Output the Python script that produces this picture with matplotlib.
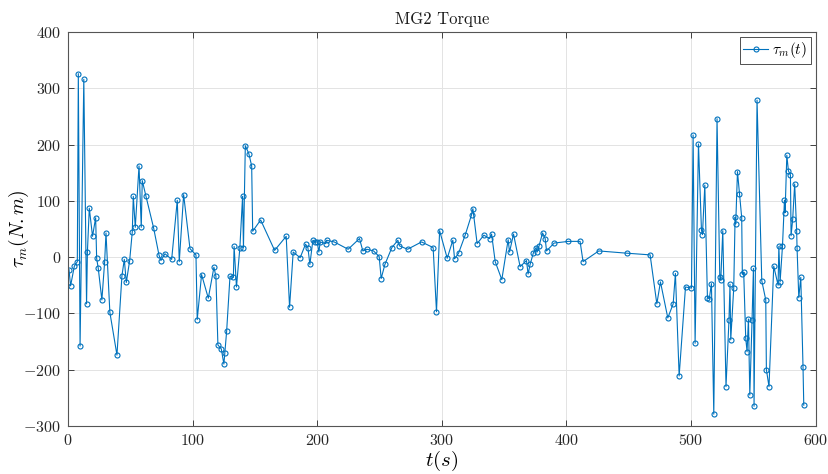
import matplotlib
matplotlib.use("Agg")
import matplotlib.pyplot as plt
from matplotlib.ticker import MultipleLocator

plt.rcParams['mathtext.fontset'] = 'cm'
plt.rcParams['font.family'] = 'serif'
plt.rcParams['font.serif'] = ['cmr10', 'DejaVu Serif']
plt.rcParams['axes.formatter.use_mathtext'] = True
plt.rcParams['axes.unicode_minus'] = False

# temps (s) et couple MG2 (N.m)
t = [0.8, 2.1, 5.1, 7.5, 8.3, 9.7, 12.7, 14.9, 15.6, 17.1,
     19.7, 22.2, 23.0, 24.3, 27.2, 29.4, 30.5, 33.6, 39.3, 43.3,
     45.2, 46.8, 49.5, 51.6, 52.4, 54.0, 57.0, 58.8, 59.6, 62.6,
     68.7, 73.0, 74.6, 77.8, 83.2, 87.7, 89.3, 92.8, 97.9, 102.7,
     103.7, 107.2, 112.6, 117.1, 118.7, 120.3, 123.0, 125.1, 125.8, 127.3,
     130.0, 132.7, 133.3, 135.2, 137.9, 140.1, 140.8, 142.3, 145.1, 147.4,
     148.2, 154.6, 165.8, 175.1, 177.8, 180.7, 186.3, 190.6, 192.5, 194.1,
     196.5, 198.4, 200.0, 201.3, 202.4, 206.7, 207.5, 213.6, 224.8, 233.9,
     236.6, 239.8, 245.2, 249.7, 251.3, 254.3, 259.9, 264.7, 266.0, 272.5,
     283.7, 293.0, 295.7, 298.2, 304.3, 308.8, 310.2, 313.4, 318.7, 323.8,
     324.9, 328.3, 333.7, 338.3, 339.9, 342.8, 348.1, 353.2, 354.3, 357.5,
     362.8, 367.9, 369.2, 370.8, 373.5, 375.6, 376.4, 378.0, 380.8, 382.9,
     384.0, 390.1, 401.6, 410.9, 413.3, 425.9, 448.4, 467.1, 472.5, 475.4,
     481.3, 485.6, 487.4, 490.4, 495.5, 500.3, 501.6, 503.2, 505.9, 508.3,
     509.1, 511.0, 513.1, 514.6, 516.3, 518.2, 520.8, 523.0, 523.8, 525.4,
     528.0, 530.4, 531.2, 531.8, 534.2, 535.3, 535.8, 537.2, 538.8, 540.6,
     541.1, 542.2, 543.8, 544.9, 546.0, 547.1, 548.9, 550.0, 550.5, 552.9,
     556.7, 559.9, 560.4, 562.5, 566.3, 569.8, 570.4, 571.4, 573.3, 574.9,
     575.4, 576.8, 578.1, 579.7, 580.2, 581.5, 583.1, 584.7, 585.0, 586.4,
     588.0, 589.8, 590.4]
tau = [-22, -51, -16, -8, 326, -158, 316, -83, 10, 87,
       37, 70, -2, -20, -76, -9, 43, -98, -174, -33,
       -4, -45, -6, 45, 108, 53, 162, 53, 136, 108,
       52, 4, -6, 6, -4, 101, -8, 111, 15, 4,
       -111, -31, -73, -18, -34, -156, -163, -190, -171, -132,
       -34, -36, 19, -53, 16, 108, 17, 198, 184, 162,
       46, 66, 12, 37, -89, 9, -1, 23, 17, -13,
       30, 27, 27, 9, 27, 24, 30, 27, 14, 33,
       11, 14, 11, 1, -38, -13, 17, 30, 20, 14,
       27, 17, -97, 47, -2, 30, -3, 7, 39, 75,
       86, 24, 39, 33, 41, -8, -40, 31, 9, 41,
       -17, -6, -30, -13, 8, 17, 9, 20, 43, 33,
       11, 25, 28, 28, -8, 11, 7, 4, -83, -44,
       -108, -83, -29, -211, -53, -55, 217, -153, 201, 48,
       40, 128, -72, -74, -47, -279, 246, -35, -41, 47,
       -230, -111, -48, -147, -55, 71, 59, 152, 113, 70,
       -30, -27, -143, -168, -110, -245, -112, -20, -265, 279,
       -42, -76, -200, -230, -16, -50, 19, -44, 19, 101,
       79, 181, 153, 146, 38, 67, 130, 46, 17, -72,
       -36, -196, -263]

fig = plt.figure(figsize=(8.29, 4.74), dpi=100)
ax = fig.add_axes([0.082, 0.1013, 0.902, 0.8312])

ax.plot(t, tau, color='#0072BD', linewidth=0.8, marker='o', markersize=3.6,
        markerfacecolor='none', markeredgewidth=0.8, label=r'$\tau_m(t)$')

ax.set_xlim(0, 600)
ax.set_ylim(-300, 400)
ax.xaxis.set_major_locator(MultipleLocator(100))
ax.yaxis.set_major_locator(MultipleLocator(100))
ax.grid(True, color='#e3e3e3', linewidth=0.7)
ax.set_axisbelow(True)
ax.tick_params(direction='in', length=4, width=0.6, top=True, right=True,
               labelsize=11.5, colors='#262626', pad=5)
for s in ax.spines.values():
    s.set_color('#555555')
    s.set_linewidth(0.8)

ax.set_title('MG2 Torque', fontsize=12, pad=6, color='#1a1a1a')
ax.set_xlabel(r'$t(s)$', fontsize=15, labelpad=1)
ax.set_ylabel(r'$\tau_m(N.m)$', fontsize=14)
ax.yaxis.set_label_coords(-0.049, 0.5)

leg = ax.legend(loc='upper right', fontsize=11, fancybox=False, framealpha=1,
                edgecolor='#333333', handlelength=1.6, borderpad=0.25,
                handletextpad=0.3, borderaxespad=0.3)
leg.get_frame().set_linewidth(0.6)

fig.savefig('out.png', dpi=100)
